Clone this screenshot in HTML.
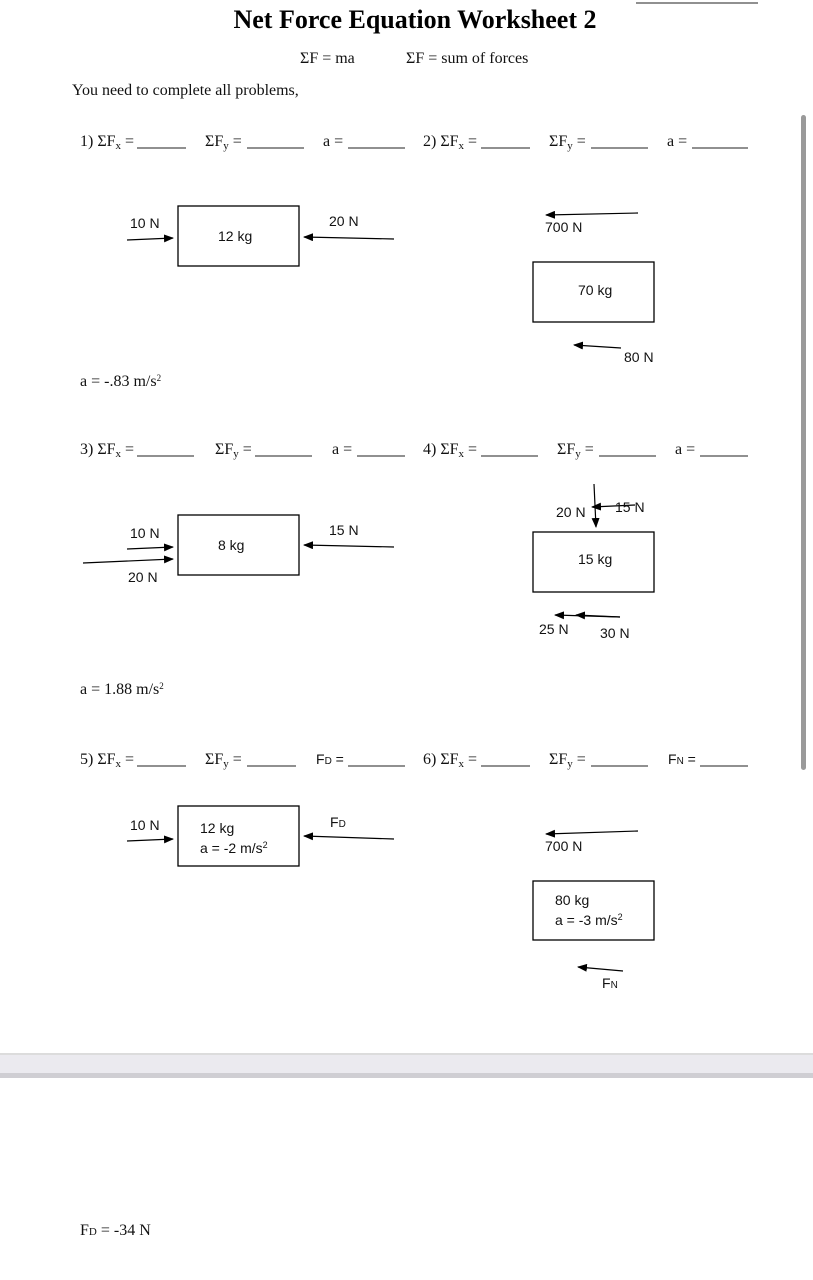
<!DOCTYPE html>
<html><head><meta charset="utf-8"><style>
body{margin:0;background:#fff;}
svg{display:block}
.t{font-family:"Liberation Serif",serif;font-size:16px;fill:#111}
.s{font-family:"Liberation Sans",sans-serif;font-size:14px;fill:#111}
</style></head><body>
<svg width="813" height="1280" viewBox="0 0 813 1280" xmlns="http://www.w3.org/2000/svg">
<defs><marker id="a" markerWidth="10" markerHeight="8" refX="9" refY="4" orient="auto" markerUnits="userSpaceOnUse"><path d="M0,0 L10,4 L0,8 z" fill="#000"/></marker></defs>
<line x1="636" y1="3" x2="758" y2="3" stroke="#222" stroke-width="1"/>
<text x="415" y="28" text-anchor="middle" font-family="Liberation Serif,serif" font-weight="bold" font-size="26" fill="#000">Net Force Equation Worksheet 2</text>
<text class="t" x="300" y="63">ΣF = ma</text>
<text class="t" x="406" y="63">ΣF = sum of forces</text>
<text class="t" x="72" y="95">You need to complete all problems,</text>
<rect x="801" y="115" width="5" height="655" rx="2.5" fill="#9a9a9a"/>
<g stroke="#222" stroke-width="1">
<line x1="137" y1="148" x2="186" y2="148"/><line x1="247" y1="148" x2="304" y2="148"/><line x1="348" y1="148" x2="405" y2="148"/>
<line x1="481" y1="148" x2="530" y2="148"/><line x1="591" y1="148" x2="648" y2="148"/><line x1="692" y1="148" x2="748" y2="148"/>
<line x1="137" y1="456" x2="194" y2="456"/><line x1="255" y1="456" x2="312" y2="456"/><line x1="357" y1="456" x2="405" y2="456"/>
<line x1="481" y1="456" x2="538" y2="456"/><line x1="599" y1="456" x2="656" y2="456"/><line x1="700" y1="456" x2="748" y2="456"/>
<line x1="137" y1="766" x2="186" y2="766"/><line x1="247" y1="766" x2="296" y2="766"/><line x1="348" y1="766" x2="405" y2="766"/>
<line x1="481" y1="766" x2="530" y2="766"/><line x1="591" y1="766" x2="648" y2="766"/><line x1="700" y1="766" x2="748" y2="766"/>
</g>
<text class="t" x="80" y="146">1) ΣF<tspan font-size="11" dy="3">x</tspan><tspan dy="-3"> =</tspan></text>
<text class="t" x="205" y="146">ΣF<tspan font-size="11" dy="3">y</tspan><tspan dy="-3"> =</tspan></text>
<text class="t" x="323" y="146">a =</text>
<text class="t" x="423" y="146">2) ΣF<tspan font-size="11" dy="3">x</tspan><tspan dy="-3"> =</tspan></text>
<text class="t" x="549" y="146">ΣF<tspan font-size="11" dy="3">y</tspan><tspan dy="-3"> =</tspan></text>
<text class="t" x="667" y="146">a =</text>
<text class="t" x="80" y="454">3) ΣF<tspan font-size="11" dy="3">x</tspan><tspan dy="-3"> =</tspan></text>
<text class="t" x="215" y="454">ΣF<tspan font-size="11" dy="3">y</tspan><tspan dy="-3"> =</tspan></text>
<text class="t" x="332" y="454">a =</text>
<text class="t" x="423" y="454">4) ΣF<tspan font-size="11" dy="3">x</tspan><tspan dy="-3"> =</tspan></text>
<text class="t" x="557" y="454">ΣF<tspan font-size="11" dy="3">y</tspan><tspan dy="-3"> =</tspan></text>
<text class="t" x="675" y="454">a =</text>
<text class="t" x="80" y="764">5) ΣF<tspan font-size="11" dy="3">x</tspan><tspan dy="-3"> =</tspan></text>
<text class="t" x="205" y="764">ΣF<tspan font-size="11" dy="3">y</tspan><tspan dy="-3"> =</tspan></text>
<text class="s" x="316" y="764">F<tspan font-size="10">D</tspan> =</text>
<text class="t" x="423" y="764">6) ΣF<tspan font-size="11" dy="3">x</tspan><tspan dy="-3"> =</tspan></text>
<text class="t" x="549" y="764">ΣF<tspan font-size="11" dy="3">y</tspan><tspan dy="-3"> =</tspan></text>
<text class="s" x="668" y="764">F<tspan font-size="10">N</tspan> =</text>
<g fill="none" stroke="#000" stroke-width="1.3">
<rect x="178" y="206" width="121" height="60"/><rect x="533" y="262" width="121" height="60"/>
<rect x="178" y="515" width="121" height="60"/><rect x="533" y="532" width="121" height="60"/>
<rect x="178" y="806" width="121" height="60"/><rect x="533" y="881" width="121" height="59"/>
</g>
<g stroke="#000" stroke-width="1.2" marker-end="url(#a)">
<line x1="127" y1="240" x2="173" y2="238"/><line x1="394" y1="239" x2="304" y2="237"/>
<line x1="638" y1="213" x2="546" y2="215"/><line x1="621" y1="348" x2="574" y2="345"/>
<line x1="127" y1="549" x2="173" y2="547"/><line x1="83" y1="563" x2="173" y2="559"/><line x1="394" y1="547" x2="304" y2="545"/>
<line x1="594" y1="484" x2="596" y2="527"/><line x1="635" y1="505" x2="592" y2="507"/>
<line x1="620" y1="617" x2="555" y2="615"/><line x1="620" y1="617" x2="576" y2="615"/>
<line x1="127" y1="841" x2="173" y2="839"/><line x1="394" y1="839" x2="304" y2="836"/>
<line x1="638" y1="831" x2="546" y2="834"/><line x1="623" y1="971" x2="578" y2="967"/>
</g>
<g class="s">
<text class="s" x="130" y="228">10 N</text><text class="s" x="218" y="241">12 kg</text><text class="s" x="329" y="226">20 N</text>
<text class="s" x="545" y="232">700 N</text><text class="s" x="578" y="295">70 kg</text><text class="s" x="624" y="362">80 N</text>
<text class="s" x="130" y="538">10 N</text><text class="s" x="218" y="550">8 kg</text><text class="s" x="128" y="582">20 N</text><text class="s" x="329" y="535">15 N</text>
<text class="s" x="556" y="517">20 N</text><text class="s" x="615" y="512">15 N</text><text class="s" x="578" y="564">15 kg</text>
<text class="s" x="539" y="634">25 N</text><text class="s" x="600" y="638">30 N</text>
<text class="s" x="130" y="830">10 N</text><text class="s" x="200" y="833">12 kg</text><text class="s" x="200" y="853">a = -2 m/s<tspan font-size="9" dy="-5">2</tspan></text>
<text class="s" x="330" y="827">F<tspan font-size="10">D</tspan></text>
<text class="s" x="545" y="851">700 N</text><text class="s" x="555" y="905">80 kg</text><text class="s" x="555" y="925">a = -3 m/s<tspan font-size="9" dy="-5">2</tspan></text>
<text class="s" x="602" y="988">F<tspan font-size="10">N</tspan></text>
</g>
<text class="t" x="80" y="386" font-size="14">a = -.83 m/s<tspan font-size="9" dy="-5">2</tspan></text>
<text class="t" x="80" y="694" font-size="14">a = 1.88 m/s<tspan font-size="9" dy="-5">2</tspan></text>
<text class="t" x="80" y="1235">F<tspan font-size="11">D</tspan> = -34 N</text>
<rect x="0" y="1053" width="813" height="25" fill="#ebeaef"/>
<rect x="0" y="1053" width="813" height="2" fill="#dcdcdc"/>
<rect x="0" y="1073" width="813" height="5" fill="#cfced3"/>
</svg>
</body></html>
